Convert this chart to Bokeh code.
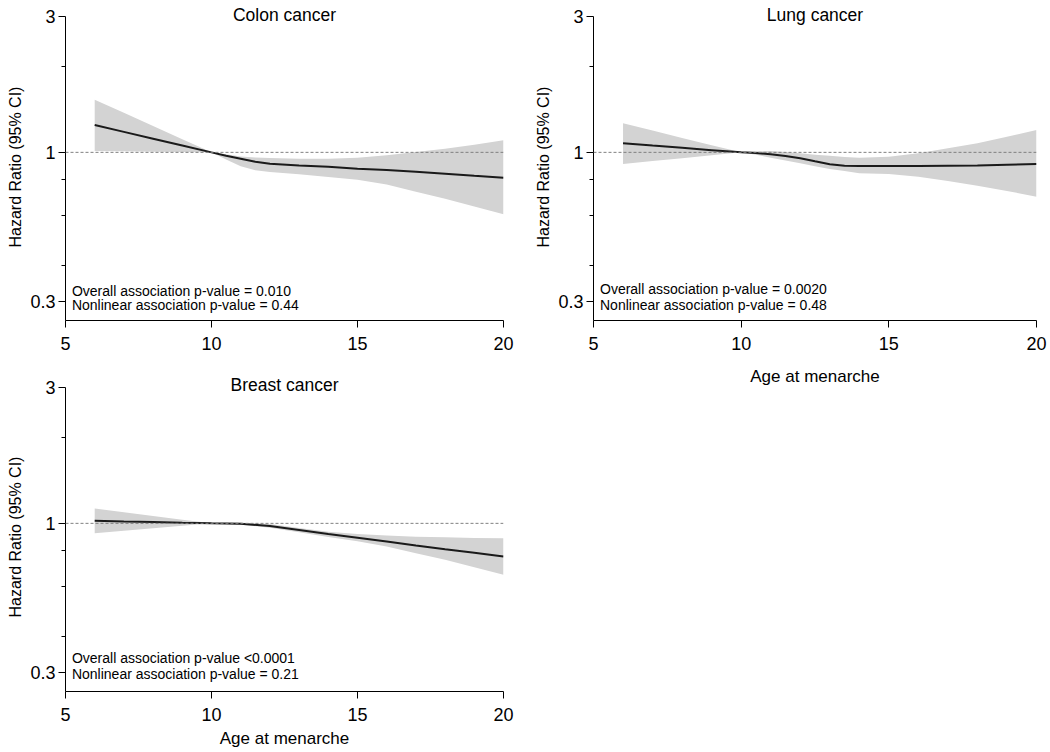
from bokeh.plotting import figure
from bokeh.models import Range1d, FixedTicker, Span, Label, Title, CustomJSTickFormatter
from bokeh.layouts import column, row
from bokeh.embed import file_html
from bokeh.resources import INLINE

# ---------------- data ----------------
x_ticks = [5, 10, 15, 20]
y_ticks = [0.3, 1, 3]
y_minor_ticks = [0.4, 0.6, 0.8, 2]

age_colon = [6, 7, 8, 9, 10, 10.5, 11, 11.5, 12, 13, 14, 15, 16, 17, 18, 19, 20]
hr_colon = [1.247, 1.180, 1.117, 1.057, 1.0, 0.973, 0.950, 0.927, 0.912, 0.900,
            0.891, 0.876, 0.867, 0.855, 0.842, 0.828, 0.815]
up_colon = [1.531, 1.376, 1.237, 1.112, 1.0, 0.984, 0.968, 0.960, 0.955, 0.950,
            0.950, 0.958, 0.976, 1.003, 1.030, 1.064, 1.102]
lo_colon = [1.011, 1.008, 1.005, 1.003, 1.0, 0.943, 0.893, 0.865, 0.853, 0.837,
            0.819, 0.802, 0.772, 0.728, 0.688, 0.646, 0.606]

age_lung = [6, 7, 8, 9, 10, 10.5, 11, 11.5, 12, 12.5, 13, 13.5, 14, 15, 16, 17, 18, 19, 20]
hr_lung = [1.076, 1.056, 1.037, 1.018, 1.0, 0.995, 0.984, 0.971, 0.953, 0.930, 0.908,
           0.898, 0.896, 0.896, 0.896, 0.898, 0.900, 0.905, 0.910]
up_lung = [1.264, 1.192, 1.124, 1.060, 1.0, 1.008, 1.011, 1.003, 0.992, 0.981, 0.973,
           0.963, 0.958, 0.966, 0.992, 1.033, 1.076, 1.135, 1.198]
lo_lung = [0.910, 0.932, 0.954, 0.977, 1.0, 0.981, 0.958, 0.937, 0.915, 0.893, 0.874,
           0.860, 0.844, 0.840, 0.821, 0.793, 0.764, 0.732, 0.699]

age_breast = [6, 7, 8, 9, 10, 11, 12, 13, 14, 15, 16, 17, 18, 19, 20]
hr_breast = [1.022, 1.016, 1.011, 1.005, 1.0, 0.997, 0.979, 0.948, 0.918, 0.891,
             0.863, 0.836, 0.811, 0.788, 0.765]
up_breast = [1.128, 1.094, 1.062, 1.030, 1.0, 1.005, 0.995, 0.963, 0.935, 0.918,
             0.906, 0.898, 0.894, 0.889, 0.886]
lo_breast = [0.923, 0.942, 0.961, 0.980, 1.0, 0.989, 0.966, 0.930, 0.895, 0.865,
             0.829, 0.786, 0.745, 0.702, 0.660]

titles = ["Colon cancer", "Lung cancer", "Breast cancer"]
overall_p = ["Overall association p-value = 0.010",
             "Overall association p-value = 0.0020",
             "Overall association p-value <0.0001"]
nonlinear_p = ["Nonlinear association p-value = 0.44",
               "Nonlinear association p-value = 0.48",
               "Nonlinear association p-value = 0.21"]
x_label = "Age at menarche"
y_label = "Hazard Ratio (95% CI)"

FONT = "Liberation Sans"
Y_LO, Y_HI = 0.257, 3.411   # frame range; axis line drawn only up to 3


def make_panel(title, x, hr, lo, up, ptxt1, ptxt2, width, height,
               mbl, mbr, mbb, show_xlabel, ylab_offset, xlab_standoff,
               title_y, text_y1, text_y2):
    p = figure(width=width, height=height,
               x_range=Range1d(5, 20), y_range=Range1d(Y_LO, Y_HI),
               y_axis_type="log", output_backend="svg", toolbar_location=None,
               min_border_left=mbl, min_border_right=mbr,
               min_border_top=0, min_border_bottom=mbb)
    p.outline_line_color = None
    p.grid.visible = False
    p.background_fill_color = "white"
    p.border_fill_color = "white"

    p.varea(x=x, y1=lo, y2=up, fill_color="#d3d3d3", fill_alpha=1.0)
    p.add_layout(Span(location=1, dimension="width", line_color="#808080",
                      line_dash="3 2", line_width=1))
    p.line(x, hr, line_color="#1a1a1a", line_width=2)

    # axes
    for ax in (p.xaxis[0], p.yaxis[0]):
        ax.axis_line_color = "black"
        ax.axis_line_width = 1
        ax.major_tick_line_color = "black"
        ax.major_tick_in = 0
        ax.major_tick_out = 7
        ax.major_label_text_font = FONT
        ax.major_label_text_font_size = "18px"
        ax.major_label_text_color = "black"
        ax.axis_label_text_font = FONT
        ax.axis_label_text_font_style = "normal"
        ax.axis_label_text_color = "black"

    p.xaxis.ticker = FixedTicker(ticks=x_ticks)
    p.xaxis.minor_tick_line_color = None
    p.xaxis.major_label_standoff = 9
    if show_xlabel:
        p.xaxis.axis_label = x_label
        p.xaxis.axis_label_text_font_size = "17px"
        p.xaxis.axis_label_standoff = xlab_standoff

    p.yaxis.bounds = (Y_LO, 3)
    p.yaxis.ticker = FixedTicker(ticks=y_ticks, minor_ticks=y_minor_ticks)
    p.yaxis.formatter = CustomJSTickFormatter(code="return String(tick);")
    p.yaxis.minor_tick_line_color = "black"
    p.yaxis.minor_tick_in = 0
    p.yaxis.minor_tick_out = 4
    p.yaxis.major_label_standoff = 3

    # y-axis title, placed along the drawn part of the axis
    p.add_layout(Title(text=y_label, align="left", offset=ylab_offset, standoff=8,
                       vertical_align="bottom", text_font=FONT,
                       text_font_size="16px", text_font_style="normal",
                       text_color="black"), "left")

    p.add_layout(Label(x=12.5, y=title_y, text=title, text_align="center",
                       text_baseline="alphabetic", text_font=FONT,
                       text_font_size="17.5px", text_color="black"))
    p.add_layout(Label(x=5.22, y=text_y1, text=ptxt1, text_align="left",
                       text_baseline="alphabetic", text_font=FONT,
                       text_font_size="14px", text_color="black"))
    p.add_layout(Label(x=5.22, y=text_y2, text=ptxt2, text_align="left",
                       text_baseline="alphabetic", text_font=FONT,
                       text_font_size="14px", text_color="black"))
    return p


p1 = make_panel(titles[0], age_colon, hr_colon, lo_colon, up_colon,
                overall_p[0], nonlinear_p[0], 528, 371, 64, 25, 51,
                False, 73, 0, 3.03, 0.3265, 0.2908)
p2 = make_panel(titles[1], age_lung, hr_lung, lo_lung, up_lung,
                overall_p[1], nonlinear_p[1], 522, 390, 64, 14, 70,
                True, 73, 14, 3.03, 0.3306, 0.2903)
p3 = make_panel(titles[2], age_breast, hr_breast, lo_breast, up_breast,
                overall_p[2], nonlinear_p[2], 528, 381, 64, 25, 61,
                True, 74, 5, 3.056, 0.3374, 0.2955)

layout = row(column(p1, p3), p2)

with open("out.html", "w") as f:
    f.write(file_html(layout, INLINE))
